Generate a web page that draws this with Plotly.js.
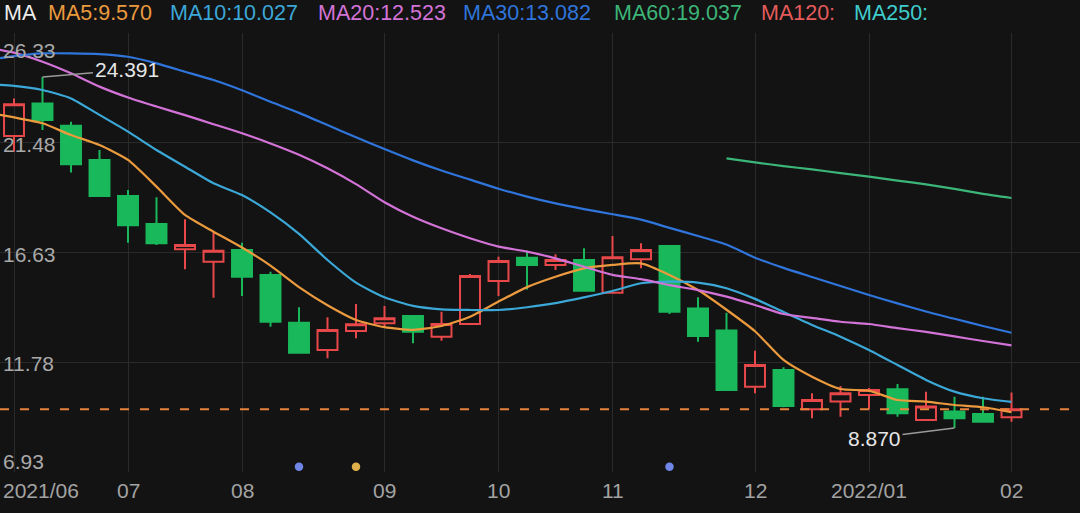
<!DOCTYPE html>
<html><head><meta charset="utf-8">
<script src="https://cdn.plot.ly/plotly-3.0.1.min.js"></script>
<style>html,body{margin:0;padding:0;background:#131313;overflow:hidden}#chart{width:1080px;height:513px}</style>
</head><body><div id="chart"></div>
<script>
// Weekly OHLC (one entry per week, 2021/06 .. 2022/02)
const openP  = [21.78,23.22,22.23,20.72,19.13,17.89,16.77,16.22,16.74,15.64,13.53,12.32,13.16,13.50,13.82,12.91,13.47,15.37,16.40,16.08,16.30,14.85,16.33,16.92,14.16,13.18,10.70,11.44,9.70,10.04,10.33,10.59,9.23,9.60,9.49,9.35];
const highP  = [23.44,24.391,22.41,21.16,19.39,19.07,18.10,17.51,17.06,15.78,14.21,13.77,14.35,14.27,13.85,14.01,15.68,16.44,16.71,16.55,16.82,17.36,17.04,16.96,14.65,13.97,12.29,11.56,10.41,10.73,10.64,10.82,10.48,10.26,10.26,10.44];
const lowP   = [21.08,22.04,20.17,19.10,17.06,16.96,15.89,14.63,14.71,13.35,12.18,11.96,12.84,13.38,12.62,12.73,13.45,14.71,15.00,15.86,14.90,14.83,15.93,13.91,12.69,10.53,10.41,9.79,9.30,9.37,9.70,9.37,9.20,8.87,9.11,9.15];
const closeP = [23.18,22.49,20.53,19.13,17.83,17.04,16.96,16.71,15.56,13.57,12.20,13.21,13.46,13.72,13.13,13.47,15.59,16.25,16.08,16.30,14.94,16.42,16.74,14.01,12.94,10.55,11.66,9.85,10.11,10.41,10.55,9.53,9.82,9.30,9.15,9.70];

// Moving averages: first value is the week before the first candle
const ma5  = [22.82,22.60,22.34,21.82,21.38,20.72,19.54,18.29,17.55,16.85,16.05,15.10,14.30,13.65,13.33,13.21,13.38,13.79,14.46,15.10,15.56,15.93,16.08,16.15,15.64,14.97,14.10,13.15,11.88,11.14,10.60,10.52,10.11,10.04,9.89,9.79,9.570];
const ma10 = [24.07,23.99,23.81,23.44,22.71,21.97,21.16,20.42,19.69,19.17,18.40,17.45,16.30,15.30,14.65,14.27,14.12,14.09,14.09,14.21,14.39,14.65,14.93,15.27,15.34,15.30,15.05,14.58,14.00,13.43,12.91,12.32,11.66,11.00,10.48,10.19,10.027];
const ma20 = [25.70,25.46,25.06,24.55,23.96,23.48,23.08,22.70,22.30,21.90,21.45,20.95,20.35,19.65,18.85,18.21,17.70,17.26,16.89,16.67,16.37,16.00,15.64,15.45,15.19,14.97,14.68,14.31,13.91,13.74,13.57,13.47,13.29,13.12,12.92,12.72,12.523];
const ma30 = [25.11,25.31,25.43,25.43,25.40,25.28,24.99,24.62,24.25,23.80,23.29,22.80,22.26,21.72,21.20,20.70,20.25,19.85,19.45,19.10,18.80,18.55,18.32,18.08,17.72,17.36,16.98,16.40,15.95,15.55,15.15,14.75,14.38,14.02,13.70,13.38,13.082];
const ma60Start = 25;
const ma60 = [20.79,20.61,20.45,20.30,20.14,19.98,19.81,19.64,19.44,19.22,19.037];

// Event dots along the bottom
const eventWeeks  = [10,12,23];
const eventColors = ['#6f86e6','#e0b04a','#6f86e6'];

// Axis labels
const monthLabels = ['2021/06','07','08','09','10','11','12','2022/01','02'];
const monthWeeks  = [0,4,8,13,17,21,26,30,35];
const priceTicks  = [6.93,11.78,16.63,21.48,26.33];

const maNames  = ['MA5','MA10','MA20','MA30','MA60','MA120','MA250'];
const maColors = ['#eb9a3e','#3ba8d8','#d373d8','#2f75dc','#3cb579','#e45b5b','#3fcccc'];

// ---------- build ----------
const W = 1080, H = 513, T = 33, B = 41;
const PH = H - T - B;
const py = px => (H - B - px) / PH;   // pixel row -> paper y
const weeks = openP.map((_, i) => i);
const maX = [-1].concat(weeks);
const ma60X = ma60.map((_, i) => ma60Start + i);
const lastClose = closeP[closeP.length - 1];

const traces = [];
traces.push({
  type: 'candlestick', x: weeks, open: openP, high: highP, low: lowP, close: closeP,
  increasing: {line: {color: '#e8484a', width: 2}, fillcolor: 'rgba(0,0,0,0)'},
  decreasing: {line: {color: '#19b85a', width: 2}, fillcolor: '#19b85a'},
  whiskerwidth: 0, hoverinfo: 'skip', showlegend: false
});
const maSeries = [ma5, ma10, ma20, ma30];
maSeries.forEach((s, k) => traces.push({
  type: 'scatter', mode: 'lines', x: maX, y: s,
  line: {color: maColors[k], width: 2.2, shape: 'spline', smoothing: 0.6},
  hoverinfo: 'skip', showlegend: false
}));
traces.push({
  type: 'scatter', mode: 'lines', x: ma60X, y: ma60,
  line: {color: maColors[4], width: 2.2, shape: 'spline', smoothing: 0.6},
  hoverinfo: 'skip', showlegend: false
});
traces.push({
  type: 'scatter', mode: 'markers', x: eventWeeks, y: eventWeeks.map(() => 7.16),
  marker: {size: 8.5, color: eventColors}, cliponaxis: false, hoverinfo: 'skip', showlegend: false
});

const font = 'Liberation Sans, Arial, Helvetica, sans-serif';
const ann = [];
// legend row
const legendTexts = ['MA'].concat(maNames.map((n, k) => {
  const arr = [ma5, ma10, ma20, ma30, ma60][k];
  return arr ? n + ':' + arr[arr.length - 1].toFixed(3) : n + ':';
}));
const legendCols = ['#ececec'].concat(maColors);
const legendLeft = [2, 46, 168, 316, 461, 612, 759, 852];
legendTexts.forEach((t, k) => ann.push({
  xref: 'paper', yref: 'paper', x: legendLeft[k] / W, y: py(13.5), xanchor: 'left', yanchor: 'middle',
  text: t, showarrow: false, font: {family: font, size: 21.5, color: legendCols[k]}
}));
// price tick labels
priceTicks.forEach((v, k) => ann.push({
  xref: 'paper', yref: 'y', x: 0, y: v, xanchor: 'left', yanchor: 'middle', xshift: 1,
  yshift: k === priceTicks.length - 1 ? -17 : (k === 0 ? 11 : -1.5),
  text: v.toFixed(2), showarrow: false, font: {family: font, size: 21, color: '#a9a9a9'}
}));
// month labels
monthLabels.forEach((t, k) => ann.push({
  xref: 'x', yref: 'paper', x: monthWeeks[k], y: py(490), xanchor: k === 0 ? 'left' : 'center', yanchor: 'middle',
  xshift: k === 0 ? -13 : 0,
  text: t, showarrow: false, font: {family: font, size: 21, color: '#a3a3a3'}
}));
// high / low callouts
const hiIdx = highP.indexOf(Math.max(...highP));
const loIdx = lowP.indexOf(Math.min(...lowP));
ann.push({x: hiIdx, y: highP[hiIdx], xref: 'x', yref: 'y', text: highP[hiIdx].toFixed(3),
  showarrow: true, arrowhead: 0, arrowwidth: 1.5, arrowcolor: '#9a9a9a', ax: 84, ay: -7, standoff: 0,
  font: {family: font, size: 21, color: '#e6e6e6'}});
ann.push({x: loIdx, y: lowP[loIdx], xref: 'x', yref: 'y', text: lowP[loIdx].toFixed(3),
  showarrow: true, arrowhead: 0, arrowwidth: 1.5, arrowcolor: '#9a9a9a', ax: -80, ay: 10, standoff: 0,
  font: {family: font, size: 21, color: '#e6e6e6'}});

const layout = {
  width: W, height: H, margin: {l: 0, r: 0, t: T, b: B, pad: 0},
  paper_bgcolor: '#131313', plot_bgcolor: '#131313',
  showlegend: false, boxgap: 0.3, boxgroupgap: 0,
  xaxis: {type: 'linear', range: [-14 / 28.5, (W - 14) / 28.5], tickvals: monthWeeks, showticklabels: false,
    showgrid: true, gridcolor: '#2a2a2a', gridwidth: 1, zeroline: false, showline: false, ticks: '',
    rangeslider: {visible: false}, fixedrange: true},
  yaxis: {range: [priceTicks[0], priceTicks[priceTicks.length - 1]], tickvals: priceTicks, showticklabels: false,
    showgrid: true, gridcolor: '#2a2a2a', gridwidth: 1, zeroline: false, showline: false, ticks: '', fixedrange: true},
  shapes: [{type: 'line', xref: 'paper', yref: 'y', x0: 0, x1: 1, y0: lastClose, y1: lastClose,
    line: {color: '#e8843c', width: 2, dash: '9px,11px'}, layer: 'above'}],
  annotations: ann
};
Plotly.newPlot('chart', traces, layout, {staticPlot: true, displayModeBar: false});
</script></body></html>
